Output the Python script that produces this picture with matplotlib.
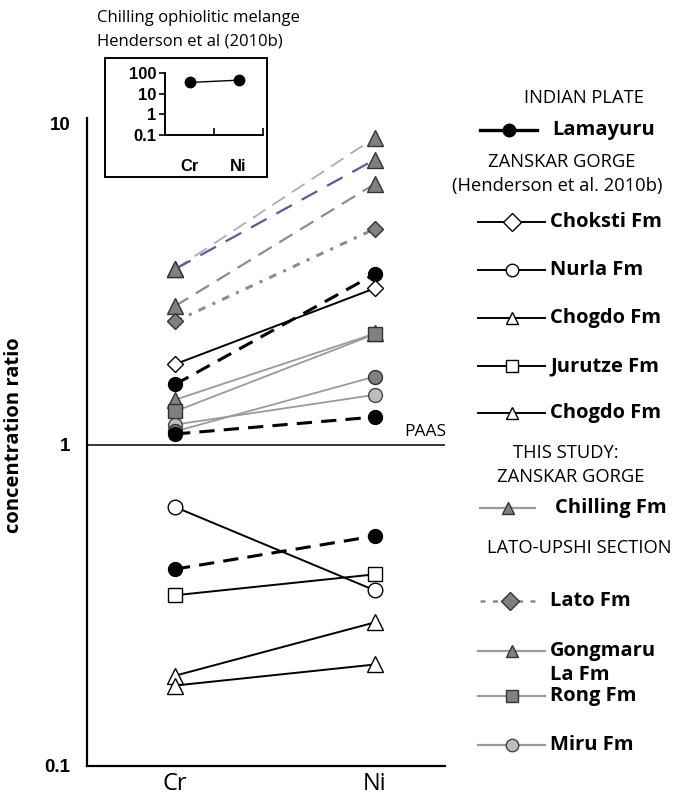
import matplotlib.pyplot as plt
from matplotlib.lines import Line2D
from matplotlib.patches import Rectangle

# ---- data (concentration ratio normalised to PAAS) ----
elements = ["Cr", "Ni"]
yticks = [0.1, 1, 10]
ytick_labels = ["0.1", "1", "10"]

lamayuru_cr = [1.54, 1.08, 0.41]
lamayuru_ni = [3.40, 1.22, 0.52]
choksti_cr = [1.78]
choksti_ni = [3.07]
nurla_cr = [0.64]
nurla_ni = [0.352]
chogdo_a_cr = [0.191]
chogdo_a_ni = [0.28]
jurutze_cr = [0.34]
jurutze_ni = [0.395]
chogdo_b_cr = [0.178]
chogdo_b_ni = [0.207]
chilling_cr = [3.52, 3.52, 2.70]
chilling_ni = [9.04, 7.72, 6.49]
lato_cr = [2.42]
lato_ni = [4.70]
gongmaru_cr = [1.38]
gongmaru_ni = [2.22]
rong_cr = [1.27]
rong_ni = [2.21]
miru_cr = [1.155, 1.10]
miru_ni = [1.43, 1.63]

inset_values = [35, 45]
inset_ticks = [0.1, 1, 10, 100]
inset_tick_labels = ["0.1", "1", "10", "100"]

GRAY_LINE = "#9a9a9a"
GRAY_FILL = "#808080"
LIGHT_FILL = "#bdbdbd"
BLUE = "#5a5a9e"

num_font = ["Liberation Sans", "DejaVu Sans"]
txt_font = ["Open Sans", "DejaVu Sans"]

fig = plt.figure(figsize=(6.73, 8.01), dpi=100)

# ---- main axes ----
ax = fig.add_axes([87 / 673, 35 / 801, 358 / 673, 648 / 801])
ax.set_yscale("log")
ax.set_ylim(0.1, 10.4)
ax.set_xlim(-0.44, 1.35)
for s in ["top", "right"]:
    ax.spines[s].set_visible(False)
for s in ["left", "bottom"]:
    ax.spines[s].set_linewidth(1.6)
ax.set_yticks(yticks)
ax.set_yticklabels(ytick_labels, family=num_font, fontweight="bold", fontsize=13.5)
ax.yaxis.set_minor_locator(plt.NullLocator())
ax.tick_params(axis="y", length=0, pad=12)
ax.set_xticks([0, 1])
ax.set_xticklabels(elements, family=txt_font, fontsize=17)
ax.tick_params(axis="x", length=0, pad=4)
ax.set_ylabel("concentration ratio", family=txt_font, fontweight="bold", fontsize=14.5)
ax.yaxis.set_label_coords(-0.176, 0.51)

ax.axhline(1, color="black", lw=1.1, zorder=1)
ax.text(1.25, 1.035, "PAAS", family=txt_font, fontsize=12.5, ha="center", va="bottom")

x = [0, 1]


def draw(cr, ni, color, ls, lw, marker, fc, ec, ms, z=3):
    for a, b in zip(cr, ni):
        ax.plot(x, [a, b], color=color, ls=ls, lw=lw, marker=marker, mfc=fc,
                mec=ec, ms=ms, mew=1.0, zorder=z)


draw(chilling_cr[:1], chilling_ni[:1], "#a8a8a8", (0, (9, 5)), 1.2, "^", GRAY_FILL, "#333333", 11)
draw(chilling_cr[1:2], chilling_ni[1:2], BLUE, (0, (8, 5)), 1.6, "^", GRAY_FILL, "#333333", 11)
draw(chilling_cr[2:], chilling_ni[2:], "#8c8c8c", (0, (7, 4)), 1.6, "^", GRAY_FILL, "#333333", 11)
draw(lato_cr, lato_ni, "#8c8c8c", (0, (2.5, 2.5, 1, 2.5)), 2.2, "D", GRAY_FILL, "#333333", 8)
draw(gongmaru_cr, gongmaru_ni, GRAY_LINE, "-", 1.3, "^", GRAY_FILL, "#333333", 11)
draw(rong_cr, rong_ni, GRAY_LINE, "-", 1.3, "s", GRAY_FILL, "#333333", 9.5)
draw(miru_cr[:1], miru_ni[:1], GRAY_LINE, "-", 1.3, "o", LIGHT_FILL, "#444444", 10)
draw(miru_cr[1:], miru_ni[1:], GRAY_LINE, "-", 1.3, "o", GRAY_FILL, "#333333", 10)
draw(lamayuru_cr, lamayuru_ni, "black", (0, (5, 3)), 2.2, "o", "black", "black", 10, 4)
draw(choksti_cr, choksti_ni, "black", "-", 1.4, "D", "white", "black", 8, 4)
draw(nurla_cr, nurla_ni, "black", "-", 1.4, "o", "white", "black", 10.5, 4)
draw(chogdo_a_cr, chogdo_a_ni, "black", "-", 1.4, "^", "white", "black", 11, 4)
draw(jurutze_cr, jurutze_ni, "black", "-", 1.4, "s", "white", "black", 10, 4)
draw(chogdo_b_cr, chogdo_b_ni, "black", "-", 1.4, "^", "white", "black", 11, 4)

# ---- inset ----
fig.add_artist(Rectangle((105 / 673, 1 - 177 / 801), 162 / 673, 119 / 801,
                         transform=fig.transFigure, fill=False, ec="black", lw=1.4))
fig.text(97 / 673, 1 - 18 / 801, "Chilling ophiolitic melange", family=txt_font,
         fontsize=12, va="center")
fig.text(97 / 673, 1 - 41 / 801, "Henderson et al (2010b)", family=txt_font,
         fontsize=12, va="center")

ins = fig.add_axes([165 / 673, 1 - 135 / 801, 98 / 673, 65 / 801])
ins.set_yscale("log")
ins.set_ylim(0.1, 140)
ins.set_xlim(-0.5, 1.5)
ins.patch.set_alpha(0)
for s in ["top", "right"]:
    ins.spines[s].set_visible(False)
for s in ["left", "bottom"]:
    ins.spines[s].set_linewidth(1.4)
ins.spines["left"].set_bounds(0.1, 100)
ins.set_yticks(inset_ticks)
ins.set_yticklabels(inset_tick_labels, family=num_font, fontweight="bold", fontsize=12)
ins.yaxis.set_minor_locator(plt.NullLocator())
ins.tick_params(axis="y", direction="out", length=4, width=1.2, pad=2)
ins.set_xticks([0, 1])
ins.set_xticklabels(elements, family=num_font, fontweight="bold", fontsize=12)
ins.tick_params(axis="x", length=0, pad=17)
ins.set_xticks([0.5, 1.5], minor=True)
ins.tick_params(axis="x", which="minor", direction="in", length=5, width=1.2)
ins.plot(x, inset_values, color="black", lw=1.0, marker="o", ms=7.5)

# ---- legend (drawn on an overlay in pixel units) ----
lg = fig.add_axes([0, 0, 1, 1])
lg.set_xlim(0, 673)
lg.set_ylim(801, 0)
lg.axis("off")
lg.patch.set_alpha(0)

headers = [
    ("INDIAN PLATE", 584, 98),
    ("ZANSKAR GORGE", 562, 162),
    ("(Henderson et al. 2010b)", 557, 186),
    ("THIS STUDY:", 566, 453),
    ("ZANSKAR GORGE", 571, 477),
    ("LATO-UPSHI SECTION", 579, 548),
]
for t, hx, hy in headers:
    lg.text(hx, hy, t, family=txt_font, fontsize=13.2, ha="center", va="center")

entries = [
    ("Lamayuru", 130, "black", "-", 2.4, "o", "black", "black", 480, 537, 552),
    ("Choksti Fm", 222, "black", "-", 1.4, "D", "white", "black", 478, 545, 550),
    ("Nurla Fm", 270, "black", "-", 1.4, "o", "white", "black", 478, 545, 550),
    ("Chogdo Fm", 318, "black", "-", 1.4, "^", "white", "black", 478, 545, 550),
    ("Jurutze Fm", 366, "black", "-", 1.4, "s", "white", "black", 478, 545, 550),
    ("Chogdo Fm", 413, "black", "-", 1.4, "^", "white", "black", 478, 545, 550),
    ("Chilling Fm", 508, GRAY_LINE, "-", 1.6, "^", GRAY_FILL, "#333333", 480, 535, 555),
    ("Lato Fm", 601, "#8c8c8c", (0, (2, 3)), 1.8, "D", GRAY_FILL, "#333333", 480, 540, 550),
    ("Gongmaru\nLa Fm", 651, GRAY_LINE, "-", 1.6, "^", GRAY_FILL, "#333333", 478, 545, 550),
    ("Rong Fm", 696, GRAY_LINE, "-", 1.6, "s", GRAY_FILL, "#333333", 478, 545, 550),
    ("Miru Fm", 745, GRAY_LINE, "-", 1.6, "o", LIGHT_FILL, "#444444", 478, 545, 550),
]
for label, ly, col, ls, lw, mk, fc, ec, x0, x1, tx in entries:
    lg.add_line(Line2D([x0, x1], [ly, ly], color=col, ls=ls, lw=lw))
    lg.add_line(Line2D([(x0 + x1) / 2], [ly], marker=mk, mfc=fc, mec=ec, ms=9, mew=1.0))
    if "\n" in label:
        first, second = label.split("\n")
        lg.text(tx, ly, first, family=txt_font, fontweight="bold", fontsize=14.5, va="center")
        lg.text(tx, ly + 24, second, family=txt_font, fontweight="bold", fontsize=14.5, va="center")
    else:
        lg.text(tx, ly, label, family=txt_font, fontweight="bold", fontsize=14.5, va="center")

fig.savefig("out.png", dpi=100)
